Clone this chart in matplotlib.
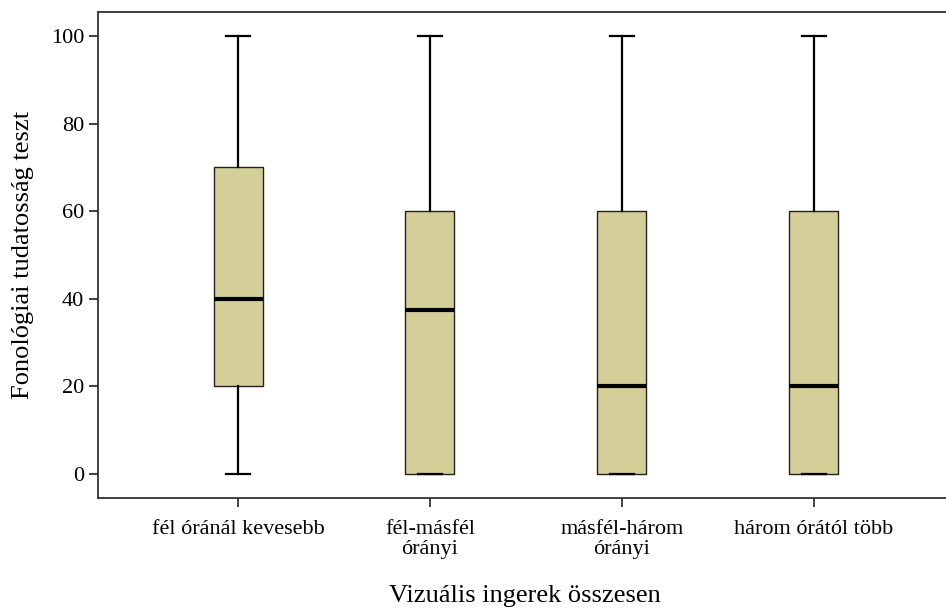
import matplotlib
matplotlib.use("Agg")
import matplotlib.pyplot as plt

categories = ["fél óránál kevesebb", "fél-másfél\nórányi", "másfél-három\nórányi", "három órától több"]
whisker_low = [0, 0, 0, 0]
q1 = [20, 0, 0, 0]
median = [40, 37.5, 20, 20]
q3 = [70, 60, 60, 60]
whisker_high = [100, 100, 100, 100]

BOX_COLOR = "#d4cf99"
SPINE_COLOR = "#333333"

plt.rcParams["font.family"] = ["Liberation Serif", "DejaVu Serif"]

stats = []
for i, label in enumerate(categories):
    stats.append({
        "label": label,
        "whislo": whisker_low[i],
        "q1": q1[i],
        "med": median[i],
        "q3": q3[i],
        "whishi": whisker_high[i],
        "fliers": [],
    })

fig = plt.figure(figsize=(9.46, 6.10), dpi=100)
ax = fig.add_axes([98 / 946, 112 / 610, 1 - 98 / 946, 486 / 610])

ax.bxp(
    stats,
    positions=[1, 2, 3, 4],
    widths=0.255,
    patch_artist=True,
    showfliers=False,
    boxprops=dict(facecolor=BOX_COLOR, edgecolor="#222222", linewidth=1.0),
    medianprops=dict(color="black", linewidth=3),
    whiskerprops=dict(color="black", linewidth=1.6),
    capprops=dict(color="black", linewidth=1.6),
    capwidths=0.125,
)

ax.set_xlim(0.27, 4.69)
ax.set_ylim(-5.5, 105.5)
ax.set_yticks([0, 20, 40, 60, 80, 100])
ax.tick_params(axis="both", labelsize=16, length=6.5, width=1.3, color=SPINE_COLOR)
ax.tick_params(axis="x", pad=9)
ax.set_xticks([1, 2, 3, 4])
ax.set_xticklabels(categories, linespacing=1.1)

for side in ("left", "bottom", "top"):
    ax.spines[side].set_color(SPINE_COLOR)
    ax.spines[side].set_linewidth(1.3)
ax.spines["right"].set_visible(False)

ax.set_ylabel("Fonológiai tudatosság teszt", fontsize=19, labelpad=12)
fig.text(525 / 946, 1 - 596 / 610, "Vizuális ingerek összesen", ha="center", va="center", fontsize=19)

fig.savefig("out.png", dpi=100)
